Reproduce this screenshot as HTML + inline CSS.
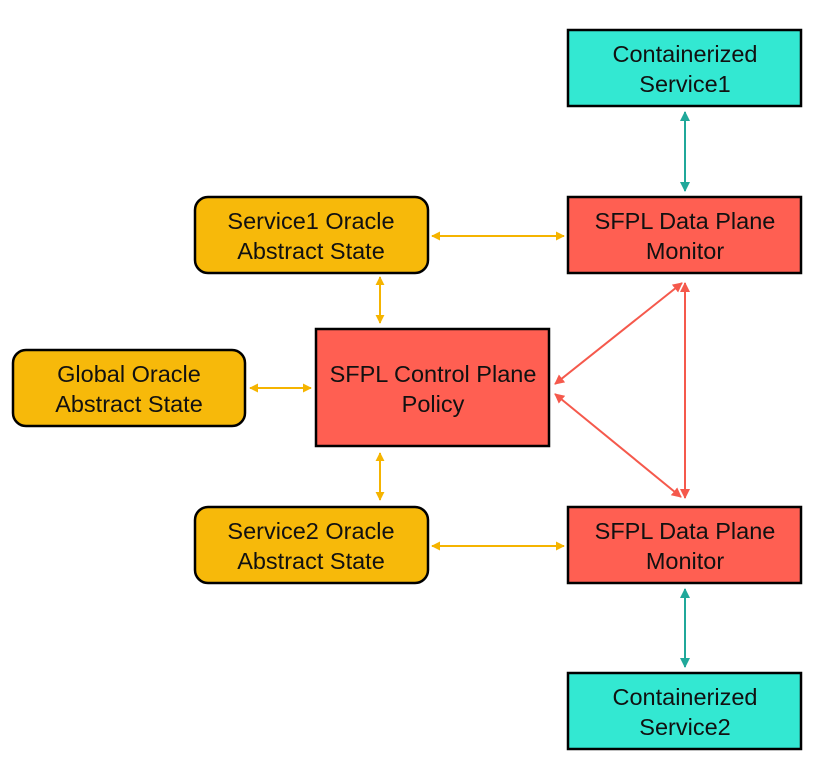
<!DOCTYPE html>
<html><head><meta charset="utf-8"><style>
html,body{margin:0;padding:0;background:#fff;}
svg{display:block;}
text{font-family:"Liberation Sans",sans-serif;font-size:23.5px;fill:#111;text-anchor:middle;}
</style></head><body>
<svg width="824" height="760" viewBox="0 0 824 760" xmlns="http://www.w3.org/2000/svg">
<defs>
<marker id="ay" viewBox="0 0 10 10" refX="9" refY="5" markerWidth="9" markerHeight="9" markerUnits="userSpaceOnUse" orient="auto-start-reverse"><path d="M0,0 L10,5 L0,10 z" fill="#F5B400"/></marker>
<marker id="ar" viewBox="0 0 10 10" refX="9" refY="5" markerWidth="10" markerHeight="10" markerUnits="userSpaceOnUse" orient="auto-start-reverse"><path d="M0,0 L10,5 L0,10 z" fill="#F5594C"/></marker>
<marker id="at" viewBox="0 0 10 10" refX="9" refY="5" markerWidth="10" markerHeight="10" markerUnits="userSpaceOnUse" orient="auto-start-reverse"><path d="M0,0 L10,5 L0,10 z" fill="#20A89A"/></marker>
</defs>
<g stroke="#000" stroke-width="2.5">
<rect x="568" y="30" width="233" height="76" fill="#33E8D2"/>
<rect x="568" y="197" width="233" height="76" fill="#FF5F52"/>
<rect x="195" y="197" width="233" height="76" rx="13" fill="#F7B90A"/>
<rect x="316" y="329" width="233" height="117" fill="#FF5F52"/>
<rect x="13" y="350" width="232" height="76" rx="13" fill="#F7B90A"/>
<rect x="195" y="507" width="233" height="76" rx="13" fill="#F7B90A"/>
<rect x="568" y="507" width="233" height="76" fill="#FF5F52"/>
<rect x="568" y="673" width="233" height="76" fill="#33E8D2"/>
</g>
<g stroke="#F5B400" stroke-width="2" marker-start="url(#ay)" marker-end="url(#ay)">
<line x1="432" y1="236" x2="564" y2="236"/>
<line x1="380" y1="277" x2="380" y2="323"/>
<line x1="250" y1="388" x2="311" y2="388"/>
<line x1="380" y1="453" x2="380" y2="500"/>
<line x1="432" y1="546" x2="564" y2="546"/>
</g>
<g stroke="#F5594C" stroke-width="2" marker-start="url(#ar)" marker-end="url(#ar)">
<line x1="555" y1="384" x2="682" y2="283"/>
<line x1="555" y1="394" x2="681" y2="497"/>
<line x1="685" y1="283" x2="685" y2="498"/>
</g>
<g stroke="#20A89A" stroke-width="2" marker-start="url(#at)" marker-end="url(#at)">
<line x1="685" y1="112" x2="685" y2="191"/>
<line x1="685" y1="589" x2="685" y2="667"/>
</g>
<text x="685" y="62">Containerized</text><text x="685" y="92">Service1</text>
<text x="685" y="229">SFPL Data Plane</text><text x="685" y="259">Monitor</text>
<text x="311" y="229">Service1 Oracle</text><text x="311" y="259">Abstract State</text>
<text x="433" y="382">SFPL Control Plane</text><text x="433" y="412">Policy</text>
<text x="129" y="382">Global Oracle</text><text x="129" y="412">Abstract State</text>
<text x="311" y="539">Service2 Oracle</text><text x="311" y="569">Abstract State</text>
<text x="685" y="539">SFPL Data Plane</text><text x="685" y="569">Monitor</text>
<text x="685" y="705">Containerized</text><text x="685" y="735">Service2</text>
</svg>
</body></html>
